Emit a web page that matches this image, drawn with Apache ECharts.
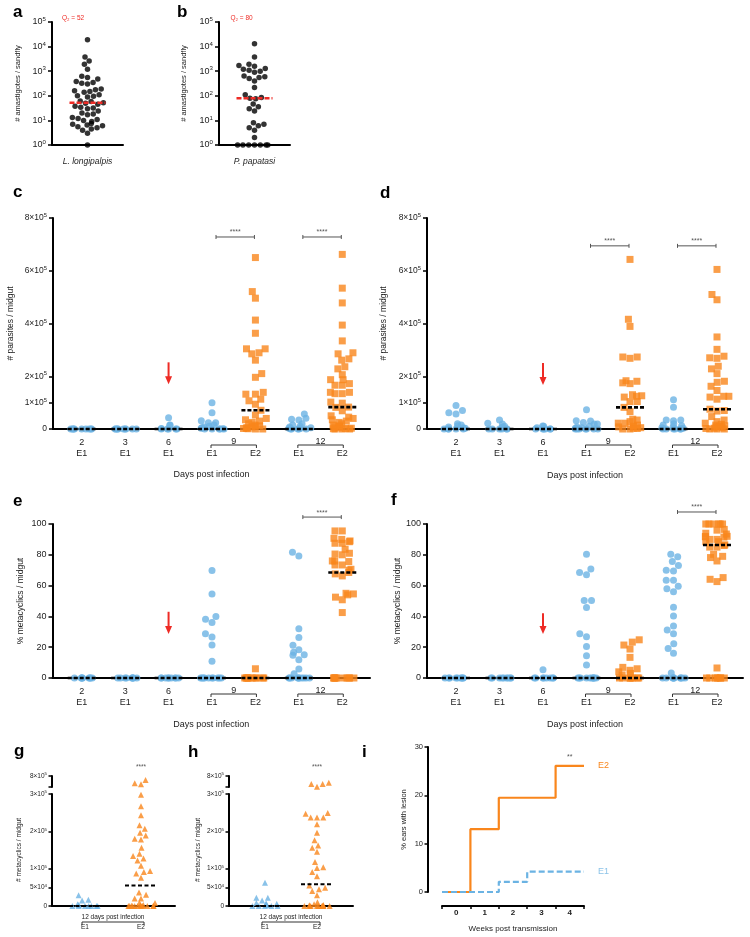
<!DOCTYPE html>
<html><head><meta charset="utf-8">
<script src="https://cdn.jsdelivr.net/npm/echarts@6/dist/echarts.min.js"></script>
<style>html,body{margin:0;padding:0;background:#fff}#chart{width:750px;height:937px}</style>
</head><body><div id="chart"></div>
<script>
// ================= DATA =================
// a, b: amastigotes per sandfly (log scale)
const abTicks = [1, 10, 100, 1000, 10000, 100000];
const aCategory = ['L. longipalpis'];
const aValues = [19000, 3800, 2600, 1900, 1200, 620, 560, 480, 380, 350, 320, 300, 190, 175, 160, 150, 140, 110, 100, 95, 90, 62, 58, 52, 50, 45, 38, 34, 32, 30, 24, 20, 18, 17, 13, 12, 11, 10, 9, 7.5, 7, 6.5, 6, 5.5, 5, 4.5, 4, 3, 1];
const aMedian = 52;
const bCategory = ['P. papatasi'];
const bValues = [13000, 3800, 1900, 1700, 1600, 1300, 1200, 1100, 1000, 900, 640, 600, 560, 500, 400, 220, 110, 85, 80, 75, 46, 36, 30, 24, 8, 7, 6, 5, 4, 2, 1, 1, 1, 1, 1, 1, 1];
const bMedian = 80;

// c-f: time course categories
const tcDays   = ['2', '3', '6', '9', '9', '12', '12'];
const tcStrain = ['E1', 'E1', 'E1', 'E1', 'E2', 'E1', 'E2'];
const tcArrowDay = '6';

// c: parasites / midgut (thousands)
const cTicks = [0, 100000, 200000, 400000, 600000, 800000];
const cValuesK = [
  [0, 0, 0, 0, 0, 0, 0, 0, 0],
  [0, 0, 0, 0, 0, 0, 0, 0, 0],
  [43, 15, 14, 2, 0, 0, 0, 0, 0],
  [100, 62, 31, 24, 24, 15, 10, 8, 5, 3, 1, 0, 0, 0, 0, 0],
  [650, 521, 496, 413, 363, 304, 304, 289, 285, 261, 210, 196, 139, 132, 132, 113, 107, 94, 71, 53, 40, 35, 30, 25, 20, 15, 12, 10, 8, 5, 3, 2, 1, 0, 0],
  [57, 41, 37, 34, 20, 15, 10, 8, 5, 3, 2, 0, 0, 0, 0, 0],
  [662, 534, 478, 394, 334, 289, 285, 266, 261, 236, 228, 206, 187, 187, 172, 166, 166, 139, 139, 134, 134, 102, 98, 83, 82, 69, 50, 45, 40, 35, 30, 25, 20, 15, 12, 10, 8, 5, 3, 2, 1, 0, 0, 0]
];
const cMedianK = [0, 0, 0, 0, 71, 0, 83];
const cSignif = [['9', '****'], ['12', '****']];

// d: parasites / midgut (thousands)
const dValuesK = [
  [89, 70, 62, 57, 20, 15, 12, 8, 5, 3, 0, 0, 0, 0, 0],
  [34, 22, 19, 10, 8, 5, 0, 0, 0, 0, 0, 0],
  [11, 10, 5, 0, 0, 0, 0, 0, 0],
  [73, 31, 30, 25, 19, 19, 10, 8, 5, 3, 0, 0, 0, 0, 0, 0, 0],
  [643, 416, 389, 273, 273, 268, 183, 181, 175, 172, 130, 126, 124, 121, 104, 104, 82, 66, 37, 34, 28, 22, 22, 15, 12, 10, 8, 5, 3, 2, 0, 0],
  [111, 82, 34, 34, 31, 20, 15, 12, 8, 5, 3, 0, 0, 0, 0, 0, 0],
  [605, 510, 490, 349, 302, 276, 270, 268, 238, 228, 210, 181, 177, 162, 146, 124, 124, 121, 113, 75, 70, 68, 47, 34, 28, 22, 18, 15, 12, 10, 8, 5, 3, 2, 0, 0, 0]
];
const dMedianK = [0, 0, 0, 0, 82, 0, 75];
const dSignif = [['9', '****'], ['12', '****']];

// e: % metacyclics / midgut
const pctTicks = [0, 20, 40, 60, 80, 100];
const eValues = [
  [0, 0, 0, 0, 0, 0, 0, 0, 0],
  [0, 0, 0, 0, 0, 0, 0, 0, 0],
  [0, 0, 0, 0, 0, 0, 0, 0, 0],
  [69.8, 54.6, 40, 38.2, 36, 28.7, 26.6, 21.4, 10.8, 0, 0, 0, 0, 0, 0, 0, 0, 0, 0],
  [6, 0, 0, 0, 0, 0, 0, 0, 0, 0, 0],
  [81.6, 79.3, 32, 26.3, 21.2, 18.4, 16.8, 15.1, 14.7, 11.9, 5.8, 2.8, 0, 0, 0, 0, 0, 0, 0, 0, 0, 0],
  [95.5, 95.5, 90.7, 90, 89, 88.5, 87.5, 87.5, 83.6, 81, 80.5, 80, 76, 76, 75.6, 73.4, 73.4, 70.6, 70, 68.5, 67.6, 66.3, 55, 54.6, 54, 52.5, 50.8, 42.5, 0, 0, 0, 0, 0, 0, 0, 0, 0, 0]
];
const eMedian = [0, 0, 0, 0, 0, 0, 68.5];
const eSignif = [['12', '****']];

// f: % metacyclics / midgut
const fValues = [
  [0, 0, 0, 0, 0, 0, 0, 0, 0],
  [0, 0, 0, 0, 0, 0, 0, 0, 0],
  [5.4, 0, 0, 0, 0, 0, 0, 0, 0],
  [80.3, 70.8, 68.5, 67, 50.3, 50.3, 45.8, 28.7, 26.8, 20.5, 14.5, 8.4, 0, 0, 0, 0, 0, 0, 0, 0, 0, 0],
  [24.8, 23.3, 21.4, 18.8, 13.4, 6.9, 6, 5, 4, 3, 2, 0, 0, 0, 0, 0, 0, 0, 0],
  [80.3, 78.8, 75.6, 73, 70, 69.5, 63.5, 63.5, 59.6, 58, 56, 46, 40.2, 33.7, 31.1, 28.7, 22.2, 19.2, 16, 3.2, 0, 0, 0, 0, 0, 0, 0, 0, 0, 0],
  [100, 100, 100, 100, 100, 100, 96.5, 96, 94, 93.5, 92, 91.8, 91.8, 91.5, 90, 90, 88.5, 88.5, 86.5, 86, 85, 85, 80.3, 79, 78.2, 76, 65.2, 64.1, 62.6, 6.5, 0, 0, 0, 0, 0, 0, 0, 0]
];
const fMedian = [0, 0, 0, 0, 0, 0, 86.4];
const fSignif = [['12', '****']];

// g, h: metacyclics / midgut at day 12 (thousands), broken axis
const ghCats = ['E1', 'E2'];
const ghGroupLabel = '12 days post infection';
const ghLowerTicks = [0, 50000, 100000, 200000, 300000];
const ghUpperTicks = [300000, 800000];
const gE1K = [29, 17, 15, 5, 3, 0, 0, 0, 0, 0, 0, 0];
const gE2K = [620, 468, 423, 298, 267, 243, 216, 207, 196, 189, 180, 178, 156, 140, 134, 127, 122, 108, 94, 91, 87, 76, 36, 30, 20, 20, 8, 8, 3, 2, 1, 0, 0, 0, 0, 0, 0, 0, 0, 0, 0];
const gMedianK = [0, 55];
const hE1K = [62.5, 22, 22, 15, 8, 7, 6, 5, 3, 0, 0, 0, 0, 0];
const hE2K = [495, 440, 436, 310, 249, 247, 237, 237, 237, 219, 196, 176, 162, 156, 145, 118, 104, 102, 91, 80, 55, 49, 45, 40, 29, 10, 5, 3, 2, 0, 0, 0, 0, 0, 0, 0, 0, 0, 0];
const hMedianK = [0, 58];
const ghSignif = '****';

// i: % ears with lesion
const iWeeks = ['0', '1', '2', '3', '4'];
const iTicks = [0, 10, 20, 30];
const iE2 = [0, 13, 19.5, 19.5, 26.1];
const iE1 = [0, 0, 2.1, 4.2, 4.2];
const iSignif = ['4', '**'];

// ================= STYLE / LAYOUT =================
const FONT = "'Liberation Sans', Arial, Helvetica, sans-serif";
const BLUE = '#6BB3E3', ORANGE = '#F9861C', RED = '#EE2B25', TXT = '#222', SIG = '#555';
const AX = {color: '#000', width: 2};
const TICK = {color: '#000', width: 1.5};

const grids = [], xAxes = [], yAxes = [], series = [];
function addGrid(r) { grids.push(Object.assign({outerBoundsMode: 'none', containLabel: false}, r)); return grids.length - 1; }
function addX(o) { xAxes.push(o); return xAxes.length - 1; }
function addY(o) { yAxes.push(o); return yAxes.length - 1; }
function sortAsc(a) { return a.slice().sort((p, q) => p - q); }

function supRich(size) {
  return {
    b: {fontSize: size, color: TXT, fontFamily: FONT},
    s: {fontSize: Math.round(size * 0.68 * 10) / 10, color: TXT, fontFamily: FONT, padding: [0, 0, Math.round(size * 0.6), 0]}
  };
}
function sciFmt(v) {
  if (v === 0) return '{b|0}';
  const e = Math.floor(Math.log10(v) + 1e-9);
  const m = Math.round(v / Math.pow(10, e));
  return '{b|' + m + '×10}{s|' + e + '}';
}
function powFmt(v) { return '{b|10}{s|' + Math.round(Math.log10(v)) + '}'; }

function frameX(g, extra) {
  return addX(Object.assign({gridIndex: g, type: 'value', min: 0, max: 1,
    axisLine: {show: true, onZero: false, lineStyle: AX}, axisTick: {show: false},
    axisLabel: {show: false}, splitLine: {show: false}}, extra || {}));
}
function frameY(g, extra) {
  return addY(Object.assign({gridIndex: g, type: 'value',
    axisLine: {show: true, onZero: false, lineStyle: AX}, splitLine: {show: false},
    nameLocation: 'middle'}, extra));
}

// ---- custom-series helpers (positions from the axes' own scales) ----
function medianSeries(xi, yi, pts, width, color, lw, dash) {
  return {type: 'custom', xAxisIndex: xi, yAxisIndex: yi, clip: false, silent: true, z: 5, data: pts,
    renderItem(params, api) {
      const p = api.coord([api.value(0), api.value(1)]);
      return {type: 'line', shape: {x1: p[0] - width / 2, y1: p[1], x2: p[0] + width / 2, y2: p[1]},
        style: {stroke: color, lineWidth: lw, lineDash: dash}};
    }};
}
function textAt(xi, yi, items, dx, dy, st) {
  return {type: 'custom', xAxisIndex: xi, yAxisIndex: yi, clip: false, silent: true, z: 6,
    data: items.map(it => [it[0], it[1]]),
    renderItem(params, api) {
      const p = api.coord([api.value(0), api.value(1)]);
      return {type: 'text', x: p[0] + dx, y: p[1] + dy,
        style: Object.assign({text: items[params.dataIndex][2], align: 'center', verticalAlign: 'middle', fontFamily: FONT, fill: TXT}, st)};
    }};
}
function bracketBelow(xi, yi, items, o) {
  return {type: 'custom', xAxisIndex: xi, yAxisIndex: yi, clip: false, silent: true, z: 5,
    data: items.map(it => [it[0], 0]),
    renderItem(params, api) {
      const it = items[params.dataIndex];
      const cs = params.coordSys; const bottom = cs.y + cs.height;
      const x0 = api.coord([it[0], 0])[0] + o.in0;
      const x1 = api.coord([it[1], 0])[0] + o.in1;
      const y = bottom + o.lineDy;
      return {type: 'group', children: [
        {type: 'polyline', shape: {points: [[x0, y + o.tick], [x0, y], [x1, y], [x1, y + o.tick]]}, style: {stroke: '#333', lineWidth: 1, fill: 'none'}},
        {type: 'text', x: (x0 + x1) / 2, y: bottom + o.textDy, style: {text: it[2], align: 'center', verticalAlign: 'middle', fontSize: o.fs, fontFamily: FONT, fill: TXT}}
      ]};
    }};
}
function sigAbove(xi, yi, items, yVal) {
  return {type: 'custom', xAxisIndex: xi, yAxisIndex: yi, clip: false, silent: true, z: 5,
    data: items.map(it => [it[0], yVal]),
    renderItem(params, api) {
      const it = items[params.dataIndex];
      const p0 = api.coord([it[0], yVal]); const p1 = api.coord([it[1], yVal]);
      const x0 = p0[0] + 4, x1 = p1[0] - 1, y = p0[1];
      return {type: 'group', children: [
        {type: 'line', shape: {x1: x0, y1: y, x2: x1, y2: y}, style: {stroke: SIG, lineWidth: 1}},
        {type: 'line', shape: {x1: x0, y1: y - 2, x2: x0, y2: y + 2}, style: {stroke: SIG, lineWidth: 1}},
        {type: 'line', shape: {x1: x1, y1: y - 2, x2: x1, y2: y + 2}, style: {stroke: SIG, lineWidth: 1}},
        {type: 'text', x: (x0 + x1) / 2, y: y - 4.5, style: {text: it[2], align: 'center', verticalAlign: 'middle', fontSize: 7, fontFamily: FONT, fill: SIG}}
      ]};
    }};
}
function arrowSeries(xi, yi, cat, yTail, yTip) {
  return {type: 'custom', xAxisIndex: xi, yAxisIndex: yi, clip: false, silent: true, z: 6,
    data: [[cat, yTip]],
    renderItem(params, api) {
      const tip = api.coord([cat, yTip]); const tail = api.coord([cat, yTail]);
      const x = tip[0];
      return {type: 'group', children: [
        {type: 'line', shape: {x1: x, y1: tail[1], x2: x, y2: tip[1] - 6}, style: {stroke: RED, lineWidth: 2}},
        {type: 'polygon', shape: {points: [[x - 3.5, tip[1] - 8], [x + 3.5, tip[1] - 8], [x, tip[1]]]}, style: {fill: RED}}
      ]};
    }};
}

// ---- panel a / b ----
function logPanel(L, cats, values, median) {
  const g = addGrid({left: L.left, top: L.top, width: L.w, height: L.h});
  const xi = addX({gridIndex: g, type: 'category', data: cats, jitter: 34, jitterOverlap: false, jitterMargin: 0.3,
    axisLine: {show: true, onZero: false, lineStyle: AX}, axisTick: {show: false},
    axisLabel: {fontSize: 8.5, fontStyle: 'italic', color: TXT, margin: 12, fontFamily: FONT}, splitLine: {show: false}});
  const yi = addY({gridIndex: g, type: 'log', logBase: 10, min: abTicks[0], max: abTicks[abTicks.length - 1],
    axisLine: {show: true, onZero: false, lineStyle: AX},
    axisTick: {show: true, length: 4, lineStyle: TICK, customValues: abTicks},
    axisLabel: {customValues: abTicks, formatter: powFmt, rich: supRich(9), margin: 6},
    minorTick: {show: false}, splitLine: {show: false},
    name: '# amastigotes / sandfly', nameLocation: 'middle', nameGap: L.nameGap,
    nameTextStyle: {fontSize: 7.5, color: TXT, fontFamily: FONT}});
  series.push({type: 'scatter', xAxisIndex: xi, yAxisIndex: yi, symbol: 'circle', symbolSize: 5.5,
    itemStyle: {color: '#000'}, clip: false, silent: true, data: sortAsc(values).map(v => [0, v])});
  series.push(medianSeries(xi, yi, [[0, median]], 36, RED, 2.5, [5, 2]));
  series.push(textAt(xi, yi, [[0, abTicks[abTicks.length - 1], 'Q₂ = ' + median]], L.qdx, -4, {fontSize: 6.5, fill: RED}));
}
logPanel({left: 52, top: 22, w: 71, h: 123, nameGap: 30, qdx: -14.5}, aCategory, aValues, aMedian);
logPanel({left: 219, top: 22, w: 71, h: 123, nameGap: 31, qdx: -13}, bCategory, bValues, bMedian);

// ---- panels c-f ----
function dayGroups() {
  const seen = {}; const order = [];
  tcDays.forEach((d, i) => { if (!(d in seen)) { seen[d] = [i, i]; order.push(d); } else seen[d][1] = i; });
  return order.filter(d => seen[d][1] > seen[d][0]).map(d => [seen[d][0], seen[d][1], d]);
}
function timecourse(L, values, scale, medians, ticks, yName, fmt, labelSize, signif) {
  const fg = addGrid({left: L.axisX, top: L.top, width: L.axisW, height: L.h});
  frameX(fg, {name: 'Days post infection', nameLocation: 'middle', nameGap: L.nameGapX,
    nameTextStyle: {fontSize: 9, color: TXT, fontFamily: FONT}});
  const yMax = ticks[ticks.length - 1];
  frameY(fg, {min: 0, max: yMax,
    axisTick: {show: true, length: 4, lineStyle: TICK, customValues: ticks},
    axisLabel: {customValues: ticks, formatter: fmt, rich: supRich(labelSize), margin: 6},
    name: yName, nameGap: L.nameGapY, nameTextStyle: {fontSize: 8.5, color: TXT, fontFamily: FONT}});
  const dg = addGrid({left: L.bandLeft, top: L.top, width: L.bandW, height: L.h});
  const xi = addX({gridIndex: dg, type: 'category', data: tcDays.map((d, i) => d + ' ' + tcStrain[i]),
    jitter: 24, jitterOverlap: false, jitterMargin: 0.3,
    axisLine: {show: false, onZero: false}, axisTick: {show: false}, splitLine: {show: false},
    axisLabel: {interval: 0, margin: 8, formatter: (v, idx) => {
      const paired = tcDays.filter(d => d === tcDays[idx]).length > 1;
      return '{d|' + (paired ? ' ' : tcDays[idx]) + '}\n{d|' + tcStrain[idx] + '}';
    }, rich: {d: {fontSize: 9, lineHeight: 11, color: TXT, fontFamily: FONT}}}});
  const yi = addY({gridIndex: dg, type: 'value', min: 0, max: yMax, show: false});
  const e1 = [], e2 = [];
  values.forEach((arr, i) => {
    const target = tcStrain[i] === 'E1' ? e1 : e2;
    sortAsc(arr).forEach(v => target.push([i, v * scale]));
  });
  series.push({type: 'scatter', xAxisIndex: xi, yAxisIndex: yi, symbol: 'circle', symbolSize: 7,
    itemStyle: {color: BLUE}, clip: false, silent: true, data: e1});
  series.push({type: 'scatter', xAxisIndex: xi, yAxisIndex: yi, symbol: 'rect', symbolSize: 7,
    itemStyle: {color: ORANGE}, clip: false, silent: true, data: e2});
  series.push(medianSeries(xi, yi, medians.map((m, i) => [i, m * scale]), 28, '#000', 2.6, [4, 2]));
  series.push(bracketBelow(xi, yi, dayGroups(), {in0: -1, in1: 1, lineDy: 16, tick: 3, textDy: 13, fs: 9}));
  const groups = dayGroups();
  const sigItems = signif.map(s => { const gr = groups.find(g => g[2] === s[0]); return [gr[0], gr[1], s[1]]; });
  series.push(sigAbove(xi, yi, sigItems, L.sigFrac * yMax));
  series.push(arrowSeries(xi, yi, tcDays.indexOf(tcArrowDay), L.arrow[0] * yMax, L.arrow[1] * yMax));
}
timecourse({axisX: 53, axisW: 317, top: 218, h: 211, bandLeft: 60, bandW: 304, nameGapY: 38, nameGapX: 41, sigFrac: 0.91, arrow: [0.316, 0.2125]},
  cValuesK, 1000, cMedianK, cTicks, '# parasites / midgut', sciFmt, 8.5, cSignif);
timecourse({axisX: 427, axisW: 316, top: 218, h: 211, bandLeft: 434.25, bandW: 304.5, nameGapY: 39, nameGapX: 42, sigFrac: 0.868, arrow: [0.3125, 0.209]},
  dValuesK, 1000, dMedianK, cTicks, '# parasites / midgut', sciFmt, 8.5, dSignif);
timecourse({axisX: 52.5, axisW: 317.5, top: 524, h: 154, bandLeft: 60, bandW: 304, nameGapY: 27, nameGapX: 42, sigFrac: 1.045, arrow: [0.43, 0.286]},
  eValues, 1, eMedian, pctTicks, '% metacyclics / midgut', v => '{b|' + v + '}', 9, eSignif);
timecourse({axisX: 427, axisW: 316, top: 524, h: 154, bandLeft: 434.25, bandW: 304.5, nameGapY: 25, nameGapX: 42, sigFrac: 1.078, arrow: [0.42, 0.286]},
  fValues, 1, fMedian, pctTicks, '% metacyclics / midgut', v => '{b|' + v + '}', 9, fSignif);

// ---- panels g / h (broken y axis) ----
function brokenPanel(L, e1K, e2K, medK) {
  const breakAt = ghLowerTicks[ghLowerTicks.length - 1];
  const top = ghUpperTicks[ghUpperTicks.length - 1];
  const fl = addGrid({left: L.axisX, top: 794, width: L.axisW, height: 112});
  frameX(fl);
  frameY(fl, {min: 0, max: breakAt,
    axisTick: {show: true, length: 3.5, lineStyle: TICK, customValues: ghLowerTicks},
    axisLabel: {customValues: ghLowerTicks, formatter: sciFmt, rich: supRich(6.5), margin: 5},
    name: '# metacyclics / midgut', nameGap: L.nameGap, nameTextStyle: {fontSize: 6.5, color: TXT, fontFamily: FONT}});
  const fu = addGrid({left: L.axisX, top: 776, width: L.axisW, height: 11});
  addX({gridIndex: fu, type: 'value', min: 0, max: 1, show: false});
  frameY(fu, {min: breakAt, max: top,
    axisTick: {show: true, length: 3.5, lineStyle: TICK, customValues: ghUpperTicks},
    axisLabel: {customValues: [top], formatter: sciFmt, rich: supRich(6.5), margin: 5}});
  const dl = addGrid({left: L.bandLeft, top: 794, width: L.bandW, height: 112});
  const xl = addX({gridIndex: dl, type: 'category', data: ghCats, jitter: 28, jitterOverlap: false, jitterMargin: 0.3,
    axisLine: {show: false, onZero: false}, axisTick: {show: false}, splitLine: {show: false},
    axisLabel: {interval: 0, margin: 18, fontSize: 6.5, color: TXT, fontFamily: FONT}});
  const yl = addY({gridIndex: dl, type: 'value', min: 0, max: breakAt, show: false});
  const du = addGrid({left: L.bandLeft, top: 776, width: L.bandW, height: 11});
  const xu = addX({gridIndex: du, type: 'category', data: ghCats, jitter: 28, jitterOverlap: false, jitterMargin: 0.3,
    axisLine: {show: false, onZero: false}, axisTick: {show: false}, axisLabel: {show: false}, splitLine: {show: false}});
  const yu = addY({gridIndex: du, type: 'value', min: breakAt, max: top, show: false});
  [e1K, e2K].forEach((arr, si) => {
    const vals = sortAsc(arr).map(v => v * 1000);
    const base = {type: 'scatter', symbol: 'triangle', symbolSize: 6, itemStyle: {color: si ? ORANGE : BLUE}, clip: false, silent: true};
    series.push(Object.assign({xAxisIndex: xl, yAxisIndex: yl, data: vals.filter(v => v <= breakAt).map(v => [si, v])}, base));
    const up = vals.filter(v => v > breakAt).map(v => [si, v]);
    if (up.length) series.push(Object.assign({xAxisIndex: xu, yAxisIndex: yu, data: up}, base));
  });
  series.push(medianSeries(xl, yl, medK.map((m, i) => [i, m * 1000]), 32, '#000', 2, [4, 2.5]));
  series.push(bracketBelow(xl, yl, [[0, 1, ghGroupLabel]], {in0: -3, in1: 3, lineDy: 16, tick: 3, textDy: 11, fs: 6.5}));
  series.push(textAt(xu, yu, [[1, top, ghSignif]], 0, -9, {fontSize: 6.5, fill: SIG}));
}
brokenPanel({axisX: 52, axisW: 123, bandLeft: 57, bandW: 112, nameGap: 29}, gE1K, gE2K, gMedianK);
brokenPanel({axisX: 229, axisW: 124, bandLeft: 239, bandW: 104, nameGap: 27}, hE1K, hE2K, hMedianK);

// ---- panel i ----
(function () {
  const ig = addGrid({left: 442, top: 747, width: 142, height: 145});
  const ixc = addX({gridIndex: ig, type: 'category', data: iWeeks, boundaryGap: true, offset: 14,
    axisLine: {show: true, onZero: false, lineStyle: AX}, axisTick: {show: true, length: 3, lineStyle: TICK},
    axisLabel: {fontSize: 8, fontWeight: 'bold', color: TXT, margin: 3, fontFamily: FONT}, splitLine: {show: false},
    name: 'Weeks post transmission', nameLocation: 'middle', nameGap: 19, nameTextStyle: {fontSize: 8, color: TXT, fontFamily: FONT}});
  const ixv = addX({gridIndex: ig, type: 'value', min: -0.5, max: iWeeks.length - 0.5, show: false});
  const iy = addY({gridIndex: ig, type: 'value', min: iTicks[0], max: iTicks[iTicks.length - 1], offset: 14,
    axisLine: {show: true, onZero: false, lineStyle: AX}, axisTick: {show: true, length: 3.5, lineStyle: TICK, customValues: iTicks},
    axisLabel: {customValues: iTicks, fontSize: 7.5, color: TXT, margin: 5, fontFamily: FONT}, splitLine: {show: false},
    name: '% ears with lesion', nameLocation: 'middle', nameGap: 20, nameTextStyle: {fontSize: 7.5, color: TXT, fontFamily: FONT}});
  function stepData(vals) { const pts = vals.map((v, i) => [i - 0.5, v]); pts.push([vals.length - 0.5, vals[vals.length - 1]]); return pts; }
  series.push({type: 'line', xAxisIndex: ixv, yAxisIndex: iy, step: 'end', symbol: 'none', silent: true, z: 3,
    data: stepData(iE2), lineStyle: {color: ORANGE, width: 2.2},
    endLabel: {show: true, formatter: 'E2', color: ORANGE, fontSize: 9, distance: 14, fontFamily: FONT}});
  series.push({type: 'line', xAxisIndex: ixv, yAxisIndex: iy, step: 'end', symbol: 'none', silent: true, z: 4,
    data: stepData(iE1), lineStyle: {color: BLUE, width: 2.2, type: [6, 3]},
    endLabel: {show: true, formatter: 'E1', color: '#8CC3E8', fontSize: 9, distance: 14, fontFamily: FONT}});
  const si = iWeeks.indexOf(iSignif[0]);
  series.push(textAt(ixc, iy, [[si, iE2[si], iSignif[1]]], 0, -9, {fontSize: 7, fill: SIG}));
})();

// panel letters
const letters = [['a', 13, 3.5], ['b', 177, 3.5], ['c', 13, 183.5], ['d', 380, 184.5], ['e', 13, 492.5],
  ['f', 391, 491.5], ['g', 14, 742.5], ['h', 188, 743.5], ['i', 362, 743.5]];

const chart = echarts.init(document.getElementById('chart'), null, {renderer: 'canvas'});
chart.setOption({
  animation: false,
  backgroundColor: '#fff',
  textStyle: {fontFamily: FONT},
  grid: grids, xAxis: xAxes, yAxis: yAxes, series: series,
  graphic: letters.map(l => ({type: 'text', x: l[1], y: l[2], silent: true,
    style: {text: l[0], fontSize: 17, fontWeight: 'bold', fontFamily: FONT, fill: '#000', verticalAlign: 'top'}}))
});
</script></body></html>
